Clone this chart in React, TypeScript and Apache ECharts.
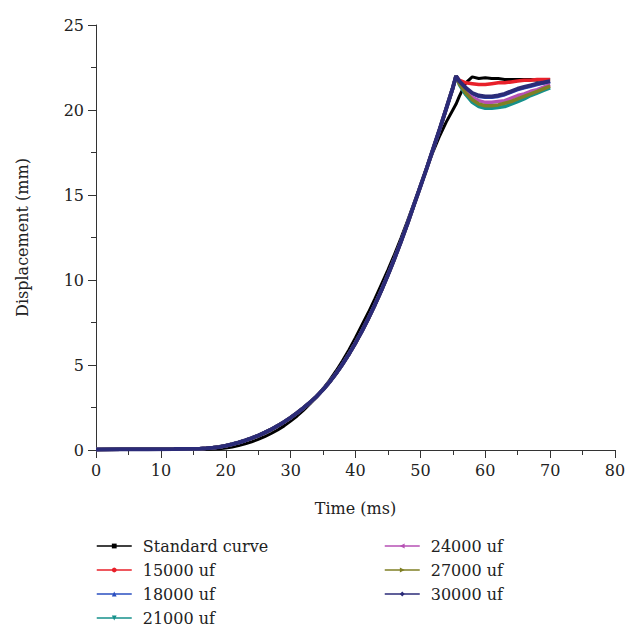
import React, { useEffect, useRef } from "react";
import * as echarts from "echarts";

const timeMs = [
  0, 4, 8, 12, 16, 17, 18, 19, 20, 21, 22, 23, 24, 25, 26, 27, 28, 29, 30, 31, 32, 33, 34, 35, 36, 37,
  38, 39, 40, 41, 42, 43, 44, 45, 46, 47, 48, 49, 50, 51, 52, 53, 54, 55, 55.5, 56, 57, 58, 59, 60,
  61, 62, 63, 64, 65, 66, 67, 68, 69, 70,
];

const standardCurve = [
  0.02, 0.03, 0.04, 0.05, 0.05, 0.05, 0.06, 0.08, 0.12, 0.18, 0.26, 0.36, 0.48, 0.62, 0.78, 0.97,
  1.18, 1.42, 1.7, 2.0, 2.35, 2.72, 3.12, 3.6, 4.1, 4.65, 5.25, 5.9, 6.6, 7.35, 8.1, 8.9, 9.75, 10.6,
  11.5, 12.45, 13.45, 14.5, 15.55, 16.6, 17.6, 18.5, 19.3, 20.0, 20.35, 20.8, 21.6, 21.95, 21.85,
  21.9, 21.85, 21.85, 21.8, 21.8, 21.8, 21.8, 21.8, 21.75, 21.8, 21.8,
];

// Loading phase (0 – 55.5 ms), shared by the damper cases
const riseCommon = [
  0.03, 0.04, 0.05, 0.06, 0.08, 0.1, 0.13, 0.18, 0.25, 0.34, 0.44, 0.56, 0.7, 0.85, 1.02, 1.21, 1.42,
  1.65, 1.9, 2.18, 2.48, 2.8, 3.15, 3.55, 4.0, 4.5, 5.05, 5.65, 6.3, 7.0, 7.75, 8.55, 9.4, 10.3, 11.25,
  12.25, 13.3, 14.4, 15.5, 16.6, 17.75, 18.9, 20.1, 21.3, 22.0,
];

// Rebound phase (56 – 70 ms)
const tail15000 = [21.75, 21.6, 21.55, 21.5, 21.5, 21.55, 21.6, 21.6, 21.65, 21.7, 21.75, 21.75, 21.8, 21.8, 21.8];
const tail18000 = [21.65, 21.25, 20.95, 20.8, 20.75, 20.75, 20.8, 20.9, 21.05, 21.2, 21.3, 21.4, 21.5, 21.58, 21.65];
const tail21000 = [21.5, 20.9, 20.45, 20.2, 20.1, 20.1, 20.15, 20.2, 20.35, 20.5, 20.65, 20.85, 21.0, 21.15, 21.3];
const tail24000 = [21.6, 21.1, 20.75, 20.55, 20.45, 20.45, 20.5, 20.55, 20.7, 20.85, 20.95, 21.1, 21.2, 21.35, 21.5];
const tail27000 = [21.55, 21.0, 20.6, 20.35, 20.25, 20.25, 20.3, 20.4, 20.5, 20.65, 20.8, 20.95, 21.1, 21.25, 21.4];
const tail30000 = [21.7, 21.3, 21.0, 20.85, 20.8, 20.8, 20.85, 20.95, 21.1, 21.25, 21.35, 21.45, 21.55, 21.62, 21.7];

const seriesNames = ["Standard curve", "15000 uf", "18000 uf", "21000 uf", "24000 uf", "27000 uf", "30000 uf"];
const seriesColors = ["#000000", "#e8202a", "#2a4fc0", "#16918b", "#b650b4", "#7f7f24", "#2b2b78"];
const seriesSymbols = ["rect", "circle", "triangle", "triangle", "triangle", "triangle", "diamond"];
const seriesRotate = [0, 0, 0, 180, 90, -90, 0];

const FONT = "DejaVu Serif";

export default function App() {
  const ref = useRef<HTMLDivElement>(null);
  useEffect(() => {
    if (!ref.current) return;
    const chart = echarts.init(ref.current, null, { renderer: "svg" });
    const valueSets = [
      standardCurve,
      riseCommon.concat(tail15000),
      riseCommon.concat(tail18000),
      riseCommon.concat(tail21000),
      riseCommon.concat(tail24000),
      riseCommon.concat(tail27000),
      riseCommon.concat(tail30000),
    ];
    const series = seriesNames.map((name, i) => ({
      name,
      type: "line",
      data: timeMs.map((t, j) => [t, valueSets[i][j]]),
      showSymbol: false,
      symbol: seriesSymbols[i],
      symbolRotate: seriesRotate[i],
      symbolSize: 5,
      color: seriesColors[i],
      lineStyle: { width: i === 0 ? 3 : i === 6 ? 4 : 3.5, color: seriesColors[i] },
      itemStyle: { color: seriesColors[i] },
      z: 2 + i,
    }));
    const axisCommon = {
      axisLine: { show: true, onZero: false, lineStyle: { color: "#333", width: 1 } },
      axisTick: { show: true, inside: false, length: 8, lineStyle: { color: "#333" } },
      minorTick: { show: true, splitNumber: 2, length: 5, lineStyle: { color: "#333" } },
      splitLine: { show: false },
      axisLabel: { color: "#222", fontFamily: FONT, fontSize: 16 },
      nameTextStyle: { color: "#222", fontFamily: FONT, fontSize: 16 },
    };
    const legendCommon = {
      orient: "vertical",
      itemWidth: 35,
      itemHeight: 6,
      itemGap: 8,
      lineStyle: { width: 1.5 },
      textStyle: { color: "#222", fontFamily: FONT, fontSize: 16, lineHeight: 16, padding: [0, 0, 0, 6] },
    };
    chart.setOption({
      animation: false,
      backgroundColor: "#ffffff",
      grid: { left: 96, right: 23, top: 25, bottom: 187, containLabel: false },
      xAxis: {
        type: "value",
        min: 0,
        max: 80,
        interval: 10,
        name: "Time (ms)",
        nameLocation: "middle",
        nameGap: 50,
        ...axisCommon,
        axisLabel: { ...axisCommon.axisLabel, margin: 12 },
      },
      yAxis: {
        type: "value",
        min: 0,
        max: 25,
        interval: 5,
        name: "Displacement (mm)",
        nameLocation: "middle",
        nameGap: 66,
        ...axisCommon,
        axisLabel: { ...axisCommon.axisLabel, margin: 12 },
      },
      legend: [
        { ...legendCommon, left: 91, top: 533, data: seriesNames.slice(0, 4) },
        { ...legendCommon, left: 379, top: 533, data: seriesNames.slice(4) },
      ],
      series,
    });
    return () => chart.dispose();
  }, []);
  return <div ref={ref} style={{ position: "fixed", left: 0, top: 0, width: 638, height: 637 }} />;
}
